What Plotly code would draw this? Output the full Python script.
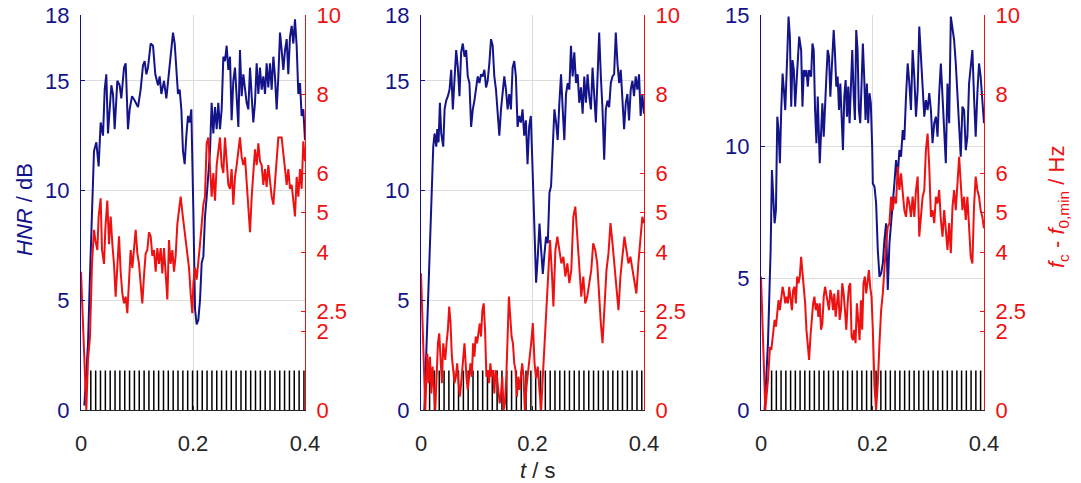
import plotly.graph_objects as go

# ---------------- data ----------------
x_tickvals = [0, 0.2, 0.4]
x_ticktext = ["0", "0.2", "0.4"]
hnr_ticks_p1 = [0, 5, 10, 15, 18]
hnr_ticks_p2 = [0, 5, 10, 15, 18]
hnr_ticks_p3 = [0, 5, 10, 15]
hnr_max = [18, 18, 15]
fc_max = 10
fc_tickvals = [0, 2, 2.5, 4, 5, 6, 8, 10]
fc_ticktext = ["0", "2", "2.5", "4", "5", "6", "8", "10"]

# common sampling instants of the second half (s)
t_right = [0.2006, 0.2036, 0.2065, 0.2095, 0.2125, 0.2155, 0.2185, 0.2214, 0.2244, 0.2274,
           0.2304, 0.2333, 0.2363, 0.2393, 0.2423, 0.2452, 0.2482, 0.2512, 0.2542, 0.2571,
           0.2601, 0.2631, 0.2661, 0.2690, 0.2720, 0.2750, 0.2780, 0.2810, 0.2839, 0.2869,
           0.2899, 0.2929, 0.2958, 0.2988, 0.3018, 0.3048, 0.3077, 0.3107, 0.3137, 0.3167,
           0.3196, 0.3226, 0.3256, 0.3286, 0.3315, 0.3345, 0.3375, 0.3405, 0.3435, 0.3464,
           0.3494, 0.3524, 0.3554, 0.3583, 0.3613, 0.3643, 0.3673, 0.3702, 0.3732, 0.3762,
           0.3792, 0.3821, 0.3851, 0.3881, 0.3911, 0.3940, 0.3970, 0.4000]

# ---- panel 1 ----
p1_hnr_t_left = [0.006, 0.0125, 0.016, 0.0185, 0.0208, 0.0232, 0.0274, 0.0315, 0.0351, 0.0393,
                 0.0423, 0.0452, 0.0482, 0.0512, 0.0542, 0.0571, 0.0601, 0.0649, 0.069, 0.072,
                 0.0768, 0.0798, 0.0839, 0.0869, 0.0911, 0.0958, 0.1018, 0.1065, 0.1107, 0.1137,
                 0.1167, 0.1196, 0.1244, 0.1286, 0.1327, 0.1375, 0.1405, 0.1435, 0.1482, 0.1524,
                 0.1565, 0.1601, 0.1643, 0.1673, 0.1702, 0.1732, 0.1762, 0.1792, 0.1821, 0.1851,
                 0.1881, 0.1911, 0.194, 0.197]
p1_hnr_left = [0.2, 3.0, 6.1, 8.5, 9.7, 11.8, 12.2, 11.1, 13.1, 12.5,
               14.6, 15.3, 12.6, 13.5, 14.8, 14.4, 12.8, 15.0, 14.8, 14.2,
               15.6, 15.8, 12.8, 13.7, 14.3, 14.1, 13.8, 14.6, 15.7, 15.9,
               15.3, 15.6, 16.7, 16.6, 15.3, 14.8, 15.2, 14.4, 15.0, 14.2,
               15.2, 16.4, 17.2, 16.7, 15.5, 14.4, 14.6, 13.7, 11.8, 11.2,
               12.5, 13.4, 13.1, 13.7]
p1_hnr_right = [9.1, 4.6, 3.9, 4.1, 5.0, 6.7, 7.0, 8.8, 9.7, 10.6,
                11.8, 14.0, 12.6, 13.8, 12.8, 14.0, 12.8, 13.7, 16.1, 15.9,
                16.6, 15.5, 16.1, 13.2, 15.0, 15.6, 14.3, 12.9, 16.4, 14.3,
                15.3, 14.6, 14.0, 13.7, 15.6, 14.3, 13.1, 14.0, 15.8, 14.4,
                15.6, 14.6, 15.2, 14.4, 15.8, 14.7, 15.8, 14.6, 16.1, 15.2,
                13.7, 15.2, 17.2, 16.4, 15.5, 16.4, 16.9, 15.3, 17.0, 17.5,
                16.7, 17.8, 16.6, 14.4, 14.9, 13.4, 13.7, 12.3]

p1_fc_t_left = [0.0, 0.0095, 0.0125, 0.0161, 0.0196, 0.0232, 0.0256, 0.0292, 0.0315, 0.0351,
                0.0375, 0.0411, 0.0435, 0.047, 0.05, 0.053, 0.056, 0.0589, 0.0619, 0.0649,
                0.0679, 0.0708, 0.0738, 0.0768, 0.0798, 0.0827, 0.0857, 0.0887, 0.0917, 0.0946,
                0.0976, 0.1006, 0.1036, 0.1065, 0.1095, 0.1125, 0.1155, 0.1185, 0.1214, 0.1244,
                0.1274, 0.1304, 0.1333, 0.1363, 0.1393, 0.1423, 0.1452, 0.1482, 0.1512, 0.1542,
                0.1571, 0.1601, 0.1631, 0.1661, 0.169, 0.172, 0.175, 0.178, 0.181, 0.1839,
                0.1869, 0.1899, 0.1929, 0.1958, 0.1988]
p1_fc_left = [3.5, 0.0, 1.27, 1.86, 3.7, 4.56, 4.3, 4.05, 4.9, 5.36,
              4.05, 3.7, 4.6, 5.3, 4.2, 4.9, 4.2, 3.7, 2.87, 3.5,
              4.4, 3.5, 2.95, 2.7, 2.87, 2.45, 3.3, 4.05, 3.6, 4.2,
              4.56, 3.97, 3.7, 3.2, 2.7, 3.4, 3.97, 4.05, 4.5, 4.4,
              3.9, 4.05, 3.5, 4.1, 3.7, 4.1, 3.46, 4.1, 3.4, 2.8,
              4.3, 3.7, 4.05, 3.5, 3.9, 4.7, 5.06, 5.4, 5.0, 4.64,
              4.3, 4.05, 3.6, 2.95, 2.45]
p1_fc_right = [3.2, 3.6, 3.3, 3.7, 4.2, 4.7, 5.2, 5.4, 6.75, 6.9,
               6.1, 5.4, 6.0, 5.3, 6.2, 6.6, 6.9, 6.2, 6.0, 6.9,
               6.4, 5.7, 5.6, 6.1, 5.2, 5.9, 6.2, 6.6, 6.9, 6.4,
               6.2, 6.4, 5.7, 5.2, 4.5, 5.4, 6.1, 6.6, 6.2, 6.75,
               6.3, 6.2, 5.7, 6.1, 5.65, 6.2, 5.8, 5.4, 5.2, 5.7,
               6.4, 6.9, 6.9, 6.9, 6.5, 6.1, 5.7, 6.1, 5.6, 5.7,
               5.2, 4.9, 5.9, 5.4, 6.1, 5.6, 6.8, 6.3]

# ---- panel 2 ----
p2_hnr_t_left = [0.006, 0.0131, 0.0173, 0.019, 0.022, 0.0244, 0.0274, 0.0292, 0.0315, 0.0339,
                 0.0363, 0.0399, 0.0423, 0.0452, 0.0482, 0.0512, 0.0542, 0.0571, 0.0601, 0.0631,
                 0.0661, 0.069, 0.072, 0.075, 0.078, 0.081, 0.0839, 0.0869, 0.0899, 0.0929,
                 0.0958, 0.0988, 0.1018, 0.1048, 0.1077, 0.1107, 0.1137, 0.1167, 0.1196, 0.1226,
                 0.1256, 0.1286, 0.1315, 0.1345, 0.1375, 0.1405, 0.1435, 0.1464, 0.1494, 0.1524,
                 0.1554, 0.1583, 0.1613, 0.1643, 0.1673, 0.1702, 0.1732, 0.1762, 0.1792, 0.1821,
                 0.1851, 0.1881, 0.1911, 0.194, 0.197]
p2_hnr_left = [0.0, 5.5, 8.7, 9.1, 12.0, 12.6, 12.0, 12.8, 12.2, 14.0,
               12.6, 12.0, 13.7, 14.1, 14.3, 14.6, 15.5, 13.7, 15.2, 16.4,
               15.6, 14.3, 16.3, 16.7, 16.1, 16.4, 15.2, 14.9, 12.9, 13.7,
               14.1, 14.7, 15.2, 14.9, 15.3, 15.2, 15.5, 14.7, 15.0, 15.8,
               16.9, 16.6, 15.2, 14.6, 13.7, 12.5, 13.7, 14.4, 15.2, 14.6,
               13.7, 14.4, 13.7, 15.6, 15.9, 15.2, 12.9, 13.4, 13.1, 13.7,
               12.5, 13.2, 11.2, 12.9, 13.4]
p2_hnr_right = [10.6, 7.6, 5.8, 7.0, 8.5, 7.3, 6.2, 7.1, 7.9, 7.6,
                9.9, 10.2, 11.8, 13.7, 13.1, 12.3, 14.0, 15.3, 13.7, 12.3,
                14.4, 14.9, 14.6, 16.6, 15.2, 16.3, 14.9, 15.3, 14.0, 14.7,
                13.5, 15.2, 14.0, 15.3, 14.3, 13.7, 15.6, 14.4, 13.1, 15.2,
                17.2, 15.2, 13.7, 11.4, 13.7, 14.1, 13.8, 14.9, 15.2, 15.3,
                17.2, 15.8, 14.9, 15.5, 14.4, 12.8, 14.0, 14.4, 13.2, 14.6,
                15.0, 14.3, 15.2, 14.6, 15.3, 13.4, 14.4, 13.5]

p2_fc_t = [0.0, 0.0077, 0.0113, 0.0137, 0.0161, 0.0185, 0.0208, 0.0232, 0.0256, 0.028,
           0.0304, 0.0327, 0.0351, 0.0375, 0.0399, 0.0435, 0.0458, 0.0482, 0.0506, 0.053,
           0.0554, 0.0577, 0.0601, 0.0625, 0.0649, 0.0673, 0.0696, 0.072, 0.0744, 0.078,
           0.0815, 0.0839, 0.0863, 0.0887, 0.0911, 0.0935, 0.0958, 0.0982, 0.1006, 0.103,
           0.1054, 0.1077, 0.1101, 0.1125, 0.1149, 0.1173, 0.1196, 0.122, 0.1244, 0.1268,
           0.1292, 0.1315, 0.1339, 0.1363, 0.1387, 0.1411, 0.1435, 0.1458, 0.1482, 0.1506,
           0.153, 0.1554, 0.1577, 0.1601, 0.1625, 0.1649, 0.1673, 0.1696, 0.172, 0.1744,
           0.1768, 0.1792, 0.1815, 0.1839, 0.1863,
           0.1893, 0.1946, 0.1976, 0.2006, 0.2036, 0.2065, 0.2095, 0.2125, 0.2155, 0.2185,
           0.2214, 0.2244, 0.2274, 0.2315,
           0.2351, 0.2375, 0.2411, 0.2446, 0.2482, 0.2518, 0.2554, 0.2589, 0.2625, 0.2661,
           0.2696, 0.2732, 0.2768, 0.2804, 0.2839, 0.2875, 0.2911, 0.2946, 0.2982, 0.3018,
           0.3054, 0.3089, 0.3125, 0.3161, 0.3196, 0.3226, 0.3256, 0.3286, 0.3327, 0.3363,
           0.3399, 0.3435, 0.347, 0.3506, 0.3542, 0.3577, 0.3613, 0.3649, 0.3685, 0.372,
           0.3756, 0.3792, 0.3827, 0.3863, 0.3899, 0.3935, 0.397, 0.4]
p2_fc = [3.46, 0.0, 1.43, 0.68, 1.35, 0.42, 1.1, 0.51, 0.0, 0.84,
         1.69, 1.94, 1.18, 0.68, 1.69, 1.27, 1.69, 2.03, 2.62, 2.19,
         1.35, 0.93, 0.68, 0.84, 1.18, 0.68, 0.34, 0.68, 1.18, 1.69,
         0.84, 0.51, 0.84, 1.18, 0.84, 1.69, 1.35, 1.86, 1.69, 2.03,
         2.19, 1.86, 2.53, 2.7, 2.03, 0.84, 1.01, 0.68, 1.18, 0.84,
         1.01, 0.42, 1.01, 0.84, 0.42, 0.17, 0.42, 0.84, 0.0, 0.17,
         0.84, 1.69, 2.87, 2.36, 1.86, 1.69, 1.18, 1.01, 0.34, 0.84,
         0.51, 0.84, 1.18, 0.84, 0.0,
         0.6, 1.27, 1.69, 2.2, 1.2, 0.8, 1.1, 0.5, 0.0, 0.84,
         1.69, 2.5, 3.38, 4.3,
         3.38, 2.62, 4.05, 4.39, 4.05, 3.71, 3.88, 3.38, 3.71, 3.21,
         3.54, 4.89, 5.15, 4.39, 3.71, 2.87, 3.38, 2.7, 2.87, 3.21,
         3.54, 4.22, 4.05, 3.71, 2.7, 2.19, 1.69, 2.53, 3.54, 3.97,
         4.73, 4.22, 3.71, 3.21, 2.53, 3.38, 3.88, 4.39, 4.05, 3.71,
         3.88, 3.54, 3.29, 2.95, 3.71, 4.22, 4.89, 4.73]

# ---- panel 3 ----
p3_hnr_t_left = [0.0065, 0.0125, 0.0173, 0.0196, 0.022, 0.0244, 0.0268, 0.0292, 0.0315, 0.0339,
                 0.0363, 0.0387, 0.0411, 0.0435, 0.047, 0.0494, 0.0518, 0.0542, 0.0565, 0.0589,
                 0.0613, 0.0649, 0.0685, 0.072, 0.0744, 0.0768, 0.0792, 0.0815, 0.0839, 0.0863,
                 0.0899, 0.0923, 0.0946, 0.097, 0.0994, 0.1018, 0.1054, 0.1077, 0.1101, 0.1125,
                 0.1149, 0.1173, 0.1196, 0.122, 0.1244, 0.128, 0.1304, 0.1327, 0.1351, 0.1375,
                 0.1399, 0.1423, 0.1446, 0.147, 0.1494, 0.1518, 0.1542, 0.1565, 0.1589, 0.1613,
                 0.1637, 0.1661, 0.1685, 0.1708, 0.1732, 0.1756, 0.178, 0.1804, 0.1827, 0.1851,
                 0.1875, 0.1899, 0.1923, 0.1946, 0.197, 0.1994]
p3_hnr_left = [0.0, 2.53, 6.08, 9.11, 8.1, 7.09, 7.59, 11.14, 10.63, 9.37,
               11.39, 12.78, 12.15, 11.39, 13.42, 14.94, 14.18, 11.52, 13.29, 12.91,
               11.52, 12.66, 14.18, 13.67, 11.52, 12.91, 12.66, 12.91, 12.28, 12.91,
               12.66, 13.92, 13.67, 11.39, 10.13, 11.9, 9.37, 10.51, 11.65, 10.38,
               11.9, 12.66, 13.67, 13.42, 11.9, 13.8, 14.43, 13.54, 12.28, 12.66,
               11.39, 12.4, 11.14, 9.87, 11.9, 12.53, 11.14, 12.28, 10.89, 12.66,
               13.67, 12.03, 11.01, 14.43, 13.67, 11.39, 10.89, 12.4, 13.92, 12.66,
               11.01, 12.4, 10.89, 12.03, 11.65, 10.0]
p3_hnr_right = [8.6, 8.48, 7.85, 6.08, 5.06, 5.19, 5.57, 6.46, 7.09, 4.56,
                6.33, 7.09, 7.72, 8.61, 9.49, 8.86, 9.87, 9.62, 10.63, 10.25,
                11.9, 13.16, 12.4, 11.39, 13.67, 12.66, 11.14, 12.15, 14.56, 13.29,
                12.03, 11.14, 11.77, 11.39, 12.03, 11.39, 10.13, 10.89, 11.14, 10.38,
                12.03, 13.16, 11.9, 10.25, 9.37, 12.4, 10.89, 14.94, 14.43, 14.05,
                13.16, 11.9, 10.76, 9.62, 11.52, 11.39, 9.87, 10.38, 12.4, 13.16,
                13.67, 11.9, 10.38, 12.03, 13.16, 12.66, 11.65, 10.89]

p3_fc_t_left = [0.0, 0.0077, 0.0125, 0.0161, 0.0185,
                0.0220, 0.0244, 0.0268, 0.0292, 0.0315, 0.0339, 0.0363, 0.0387, 0.0411, 0.0435,
                0.0458, 0.0482, 0.0506, 0.0530, 0.0554, 0.0577, 0.0601, 0.0625, 0.0649, 0.0673,
                0.0696, 0.0720, 0.0744, 0.0768, 0.0792, 0.0815, 0.0839, 0.0863, 0.0887, 0.0911,
                0.0935, 0.0958, 0.0982, 0.1006, 0.1030, 0.1054, 0.1077, 0.1101, 0.1125, 0.1149,
                0.1173, 0.1196, 0.1220, 0.1244, 0.1268, 0.1292, 0.1315, 0.1339, 0.1363, 0.1387,
                0.1411, 0.1435, 0.1458, 0.1482, 0.1506, 0.1530, 0.1554, 0.1577, 0.1601, 0.1625,
                0.1649, 0.1673, 0.1696, 0.1720, 0.1744, 0.1768, 0.1792, 0.1815, 0.1839, 0.1863,
                0.1887, 0.1911, 0.1935, 0.1958, 0.1982]
p3_fc_left = [3.38, 0.0, 0.76, 1.6, 1.52,
              2.03, 2.28, 2.11, 2.53, 2.78, 2.53, 2.87, 3.12, 2.95, 2.7,
              2.87, 2.7, 3.12, 2.78, 2.53, 3.04, 3.12, 2.7, 3.38, 3.21,
              3.38, 3.88, 3.46, 3.21, 2.7, 2.03, 1.52, 1.27, 1.86, 2.36,
              2.7, 2.87, 2.53, 2.7, 2.36, 2.7, 2.03, 2.19, 2.87, 3.12,
              2.95, 2.7, 2.53, 3.04, 2.87, 2.53, 2.95, 2.36, 2.7, 3.04,
              2.28, 2.53, 3.21, 2.95, 2.53, 2.03, 2.7, 3.12, 3.21, 1.86,
              1.77, 2.03, 1.69, 2.7, 2.28, 1.77, 2.78, 2.03, 3.21, 3.38,
              2.95, 3.29, 3.54, 3.12, 2.87]
p3_fc_right = [2.03, 0.59, 0.0, 0.68, 1.69, 2.53, 2.95, 3.71, 4.22, 4.64,
               4.73, 5.4, 5.06, 5.4, 5.23, 6.16, 5.57, 5.99, 5.4, 5.06,
               4.89, 5.4, 5.23, 4.89, 5.4, 4.89, 5.57, 5.91, 4.39, 4.89,
               5.4, 5.57, 6.58, 7.0, 6.16, 4.89, 5.06, 4.73, 5.4, 5.23,
               5.57, 4.81, 4.39, 5.06, 4.64, 4.05, 4.73, 3.97, 5.15, 5.57,
               5.06, 5.74, 6.41, 5.74, 5.06, 5.4, 4.81, 5.4, 4.73, 3.88,
               3.71, 5.15, 5.91, 5.57, 5.4, 5.06, 4.89, 4.6]

# glottal pulse instants (s) and marker heights (dB, left axis)
p1_pulses = [0.0175, 0.0262, 0.0348, 0.0435, 0.0521, 0.0608, 0.0694, 0.0781, 0.0867, 0.0954,
             0.104, 0.1127, 0.1213, 0.13, 0.1386, 0.1473, 0.1559, 0.1646, 0.1732, 0.1819,
             0.1905, 0.1992, 0.2078, 0.2165, 0.2251, 0.2338, 0.2424, 0.2511, 0.2597, 0.2684,
             0.277, 0.2857, 0.2943, 0.303, 0.3116, 0.3203, 0.3289, 0.3376, 0.3462, 0.3549,
             0.3635, 0.3722, 0.3808, 0.3895, 0.3981]
p2_pulses = [0.0154, 0.0241, 0.0327, 0.0414, 0.05, 0.0587, 0.0673, 0.076, 0.0846, 0.0933,
             0.1019, 0.1106, 0.1192, 0.1279, 0.1365, 0.1452, 0.1538, 0.1625, 0.1711, 0.1798,
             0.1884, 0.1971, 0.2057, 0.2144, 0.223, 0.2317, 0.2403, 0.249, 0.2576, 0.2663,
             0.2749, 0.2836, 0.2922, 0.3009, 0.3095, 0.3182, 0.3268, 0.3355, 0.3441, 0.3528,
             0.3614, 0.3701, 0.3787, 0.3874, 0.396]
p3_pulses = [0.019, 0.0275, 0.036, 0.0446, 0.0531, 0.0616, 0.0701, 0.0786, 0.0872, 0.0957,
             0.1042, 0.1127, 0.1212, 0.1298, 0.1383, 0.1468, 0.1553, 0.1638, 0.1724, 0.1809,
             0.1894, 0.1979, 0.2064, 0.215, 0.2235, 0.232, 0.2405, 0.249, 0.2576, 0.2661,
             0.2746, 0.2831, 0.2916, 0.3002, 0.3087, 0.3172, 0.3257, 0.3342, 0.3428, 0.3513,
             0.3598, 0.3683, 0.3768, 0.3854, 0.3939]
pulse_heights = [1.8, 1.8, 1.5]

# ---------------- assemble ----------------
panels = [
    dict(hnr_t=p1_hnr_t_left + t_right, hnr=p1_hnr_left + p1_hnr_right,
         fc_t=p1_fc_t_left + t_right, fc=p1_fc_left + p1_fc_right,
         pulses=p1_pulses, hticks=hnr_ticks_p1),
    dict(hnr_t=p2_hnr_t_left + t_right, hnr=p2_hnr_left + p2_hnr_right,
         fc_t=p2_fc_t, fc=p2_fc, pulses=p2_pulses, hticks=hnr_ticks_p2),
    dict(hnr_t=p3_hnr_t_left + t_right, hnr=p3_hnr_left + p3_hnr_right,
         fc_t=p3_fc_t_left + t_right, fc=p3_fc_left + p3_fc_right,
         pulses=p3_pulses, hticks=hnr_ticks_p3),
]

NAVY = "#14148a"
RED = "#ee1111"
DARK = "#262626"
GRID = "#dcdcdc"
FONT = "Liberation Sans, Arial, sans-serif"
FS = 22

W, H = 1081, 483
x_px = [(81, 305), (421, 644), (761, 984)]   # window pixels of each panel
y_top, y_bot = 15, 410


def px_x(v):
    return v / W


def px_y(v):
    return 1 - v / H


y_dom = [px_y(y_bot), px_y(y_top)]

fig = go.Figure()
layout = dict(template="none", width=W, height=H,
              margin=dict(l=0, r=0, t=0, b=0, pad=0, autoexpand=False),
              paper_bgcolor="white", plot_bgcolor="white", showlegend=False,
              font=dict(family=FONT, size=FS, color=DARK))

for i, p in enumerate(panels):
    k = i + 1
    xa = "x" if k == 1 else f"x{k}"
    yl = "y" if k == 1 else f"y{2 * k - 1}"
    yr = f"y{2 * k}"
    # pulses
    px, py = [], []
    for t in p["pulses"]:
        px += [t, t, None]
        py += [0, pulse_heights[i], None]
    fig.add_trace(go.Scatter(x=px, y=py, mode="lines", xaxis=xa, yaxis=yl,
                             line=dict(color="black", width=1.5), hoverinfo="skip"))
    fig.add_trace(go.Scatter(x=p["hnr_t"], y=p["hnr"], mode="lines", xaxis=xa, yaxis=yl,
                             line=dict(color=NAVY, width=2)))
    fig.add_trace(go.Scatter(x=p["fc_t"], y=p["fc"], mode="lines", xaxis=xa, yaxis=yr,
                             line=dict(color=RED, width=2)))

    xname = "xaxis" if k == 1 else f"xaxis{k}"
    ylname = "yaxis" if k == 1 else f"yaxis{2 * k - 1}"
    yrname = f"yaxis{2 * k}"
    layout[xname] = dict(domain=[px_x(x_px[i][0]), px_x(x_px[i][1])], anchor=yl,
                         range=[0, 0.4], tickvals=x_tickvals, ticktext=x_ticktext,
                         automargin=False, ticklabeloverflow="allow",
                         showgrid=True, gridcolor=GRID, zeroline=False,
                         showline=True, linecolor=DARK, linewidth=1,
                         ticks="inside", ticklen=4, tickcolor=DARK,
                         tickfont=dict(family=FONT, size=FS, color=DARK),
                         ticklabelstandoff=14)
    layout[ylname] = dict(domain=y_dom, anchor=xa, range=[0, hnr_max[i]],
                          tickvals=p["hticks"], showgrid=True, gridcolor=GRID,
                          automargin=False, ticklabeloverflow="allow",
                          zeroline=False, showline=True, linecolor=NAVY, linewidth=1,
                          ticks="inside", ticklen=4, tickcolor=NAVY,
                          tickfont=dict(family=FONT, size=FS, color=NAVY),
                          ticklabelstandoff=6)
    layout[yrname] = dict(overlaying=yl, side="right", anchor=xa, range=[0, fc_max],
                          tickvals=fc_tickvals, ticktext=fc_ticktext, showgrid=False,
                          automargin=False, ticklabeloverflow="allow",
                          zeroline=False, showline=True, linecolor=RED, linewidth=1,
                          ticks="inside", ticklen=4, tickcolor=RED,
                          tickfont=dict(family=FONT, size=FS, color=RED),
                          ticklabelstandoff=6)

layout["annotations"] = [
    dict(text="<i>HNR</i> / dB", x=px_x(25), y=px_y(210), xref="paper", yref="paper",
         textangle=-90, showarrow=False, xanchor="center", yanchor="middle",
         font=dict(family=FONT, size=FS, color=NAVY)),
    dict(text="<i>f</i><sub>c</sub> - <i>f</i><sub>0,min</sub> / Hz",
         x=px_x(1058), y=px_y(207),
         xref="paper", yref="paper", textangle=-90, showarrow=False,
         xanchor="center", yanchor="middle",
         font=dict(family=FONT, size=FS, color=RED)),
    dict(text="<i>t</i> / s", x=px_x(537), y=px_y(470), xref="paper", yref="paper",
         showarrow=False, xanchor="center", yanchor="middle",
         font=dict(family=FONT, size=FS, color=DARK)),
]

fig.update_layout(**layout)
# remove the default page margin so the figure fills the window exactly
fig.write_html("out.html", config={"displayModeBar": False},
               post_script="document.body.style.margin='0';document.body.style.overflow='hidden';")
